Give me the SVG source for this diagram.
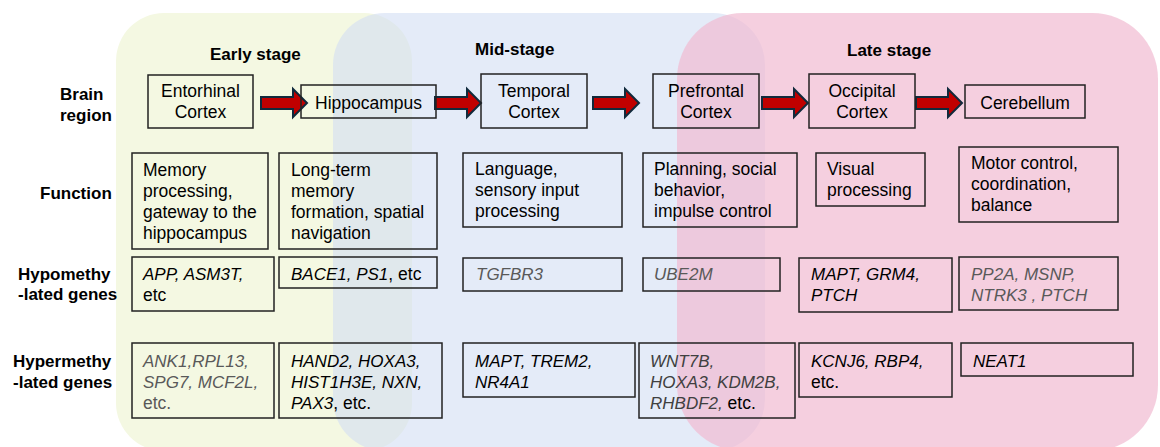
<svg xmlns="http://www.w3.org/2000/svg" width="1160" height="447" viewBox="0 0 1160 447">
<style>
text{font-family:"Liberation Sans",Arial,sans-serif;fill:#000}
.lbl{font-weight:bold;font-size:17px}
.t{font-size:17.5px}
.i{font-style:italic;font-size:17px}
.e{font-style:normal;font-size:17.5px}
.g{fill:#595959}
.box{fill:none;stroke:#222;stroke-width:1.5}
.arr{fill:#c00000;stroke:#112a3c;stroke-width:2;stroke-linejoin:miter}
</style>
<defs>
<path id="ar" d="M0,-6 H32 V-14 L46,0 L32,14 V6 H0 Z"/>
</defs>
<g id="backgrounds">
<rect x="116" y="13" width="296" height="438" rx="48" fill="#f4f8e2"/>
<rect x="333" y="13" width="432" height="438" rx="52" fill="#d2def3" fill-opacity="0.6"/>
<rect x="677" y="13" width="481" height="438" rx="66" fill="#f1bad1" fill-opacity="0.7"/>
</g>
<g id="titles">
<text class="lbl" x="210" y="60">Early stage</text>
<text class="lbl" x="475" y="55">Mid-stage</text>
<text class="lbl" x="847" y="56">Late stage</text>
</g>
<g id="row-labels">
<text class="lbl" x="60" y="100">Brain</text>
<text class="lbl" x="60" y="121">region</text>
<text class="lbl" x="40" y="199">Function</text>
<text class="lbl" x="18" y="280">Hypomethy</text>
<text class="lbl" x="18" y="300">-lated genes</text>
<text class="lbl" x="13" y="367">Hypermethy</text>
<text class="lbl" x="13" y="388">-lated genes</text>
</g>
<g id="connectors">
<use href="#ar" class="arr" transform="translate(261,103)"/>
<use href="#ar" class="arr" transform="translate(435,103)"/>
<use href="#ar" class="arr" transform="translate(593,103)"/>
<use href="#ar" class="arr" transform="translate(762,103)"/>
<use href="#ar" class="arr" transform="translate(916,103)"/>
</g>
<g id="entorhinal">
<rect class="box" x="148" y="75" width="105" height="53"/>
<text class="t" x="200.5" y="97" text-anchor="middle">Entorhinal</text>
<text class="t" x="200.5" y="118" text-anchor="middle">Cortex</text>
</g>
<g id="hippocampus">
<rect class="box" x="301" y="85" width="135" height="33"/>
<text class="t" x="368.5" y="109" text-anchor="middle">Hippocampus</text>
</g>
<g id="temporal">
<rect class="box" x="481" y="74" width="106" height="54"/>
<text class="t" x="534" y="97" text-anchor="middle">Temporal</text>
<text class="t" x="534" y="118" text-anchor="middle">Cortex</text>
</g>
<g id="prefrontal">
<rect class="box" x="653" y="74" width="106" height="54"/>
<text class="t" x="706" y="97" text-anchor="middle">Prefrontal</text>
<text class="t" x="706" y="118" text-anchor="middle">Cortex</text>
</g>
<g id="occipital">
<rect class="box" x="809" y="74" width="106" height="54"/>
<text class="t" x="862" y="97" text-anchor="middle">Occipital</text>
<text class="t" x="862" y="118" text-anchor="middle">Cortex</text>
</g>
<g id="cerebellum">
<rect class="box" x="965" y="85" width="120" height="33"/>
<text class="t" x="1025" y="109" text-anchor="middle">Cerebellum</text>
</g>
<g id="func-entorhinal">
<rect class="box" x="132" y="153" width="136" height="96"/>
<text class="t" x="143" y="176">Memory</text>
<text class="t" x="143" y="197">processing,</text>
<text class="t" x="143" y="218">gateway to the</text>
<text class="t" x="143" y="239">hippocampus</text>
</g>
<g id="func-hippocampus">
<rect class="box" x="279" y="153" width="158" height="96"/>
<text class="t" x="291" y="176">Long-term</text>
<text class="t" x="291" y="197">memory</text>
<text class="t" x="291" y="218">formation, spatial</text>
<text class="t" x="291" y="239">navigation</text>
</g>
<g id="func-temporal">
<rect class="box" x="463" y="153" width="159" height="74"/>
<text class="t" x="475" y="175">Language,</text>
<text class="t" x="475" y="196">sensory input</text>
<text class="t" x="475" y="217">processing</text>
</g>
<g id="func-prefrontal">
<rect class="box" x="643" y="153" width="154" height="74"/>
<text class="t" x="654" y="175">Planning, social</text>
<text class="t" x="654" y="196">behavior,</text>
<text class="t" x="654" y="217">impulse control</text>
</g>
<g id="func-occipital">
<rect class="box" x="816" y="153" width="109" height="53"/>
<text class="t" x="827" y="175">Visual</text>
<text class="t" x="827" y="196">processing</text>
</g>
<g id="func-cerebellum">
<rect class="box" x="959" y="147" width="159" height="75"/>
<text class="t" x="971" y="169">Motor control,</text>
<text class="t" x="971" y="190">coordination,</text>
<text class="t" x="971" y="211">balance</text>
</g>
<g id="hypo-entorhinal">
<rect class="box" x="132" y="257" width="142" height="54"/>
<text class="i" x="143" y="280">APP, ASM3T,</text>
<text class="t" x="143" y="301">etc</text>
</g>
<g id="hypo-hippocampus">
<rect class="box" x="279" y="257" width="158" height="31"/>
<text class="i" x="291" y="280">BACE1, PS1<tspan class="e">, etc</tspan></text>
</g>
<g id="hypo-temporal">
<rect class="box" x="463" y="258" width="159" height="33"/>
<text class="i g" x="476" y="280">TGFBR3</text>
</g>
<g id="hypo-prefrontal">
<rect class="box" x="643" y="258" width="137" height="33"/>
<text class="i g" x="654" y="280">UBE2M</text>
</g>
<g id="hypo-occipital">
<rect class="box" x="799" y="258" width="153" height="54"/>
<text class="i" x="811" y="280">MAPT, GRM4,</text>
<text class="i" x="811" y="301">PTCH</text>
</g>
<g id="hypo-cerebellum">
<rect class="box" x="959" y="257" width="159" height="53"/>
<text class="i g" x="971" y="280">PP2A, MSNP,</text>
<text class="i g" x="971" y="301">NTRK3 , PTCH</text>
</g>
<g id="hyper-entorhinal">
<rect class="box" x="132" y="343" width="142" height="75"/>
<text class="i g" x="143" y="367">ANK1,RPL13,</text>
<text class="i g" x="143" y="388">SPG7, MCF2L,</text>
<text class="t g" x="143" y="409">etc.</text>
</g>
<g id="hyper-hippocampus">
<rect class="box" x="279" y="343" width="163" height="75"/>
<text class="i" x="291" y="367">HAND2, HOXA3,</text>
<text class="i" x="291" y="388">HIST1H3E, NXN,</text>
<text class="i" x="291" y="409">PAX3<tspan class="e">, etc.</tspan></text>
</g>
<g id="hyper-temporal">
<rect class="box" x="463" y="343" width="172" height="54"/>
<text class="i" x="475" y="367">MAPT, TREM2,</text>
<text class="i" x="475" y="388">NR4A1</text>
</g>
<g id="hyper-prefrontal">
<rect class="box" x="639" y="343" width="156" height="75"/>
<text class="i" x="650" y="367" fill="#404040" style="fill:#404040">WNT7B,</text>
<text class="i" x="650" y="388" style="fill:#404040">HOXA3, KDM2B,</text>
<text class="i" x="650" y="409" style="fill:#404040">RHBDF2,<tspan class="e" style="fill:#000"> etc.</tspan></text>
</g>
<g id="hyper-occipital">
<rect class="box" x="799" y="343" width="153" height="54"/>
<text class="i" x="811" y="367">KCNJ6, RBP4,</text>
<text class="t" x="811" y="388">etc.</text>
</g>
<g id="hyper-cerebellum">
<rect class="box" x="961" y="343" width="172" height="33"/>
<text class="i" x="973" y="367">NEAT1</text>
</g>
</svg>
